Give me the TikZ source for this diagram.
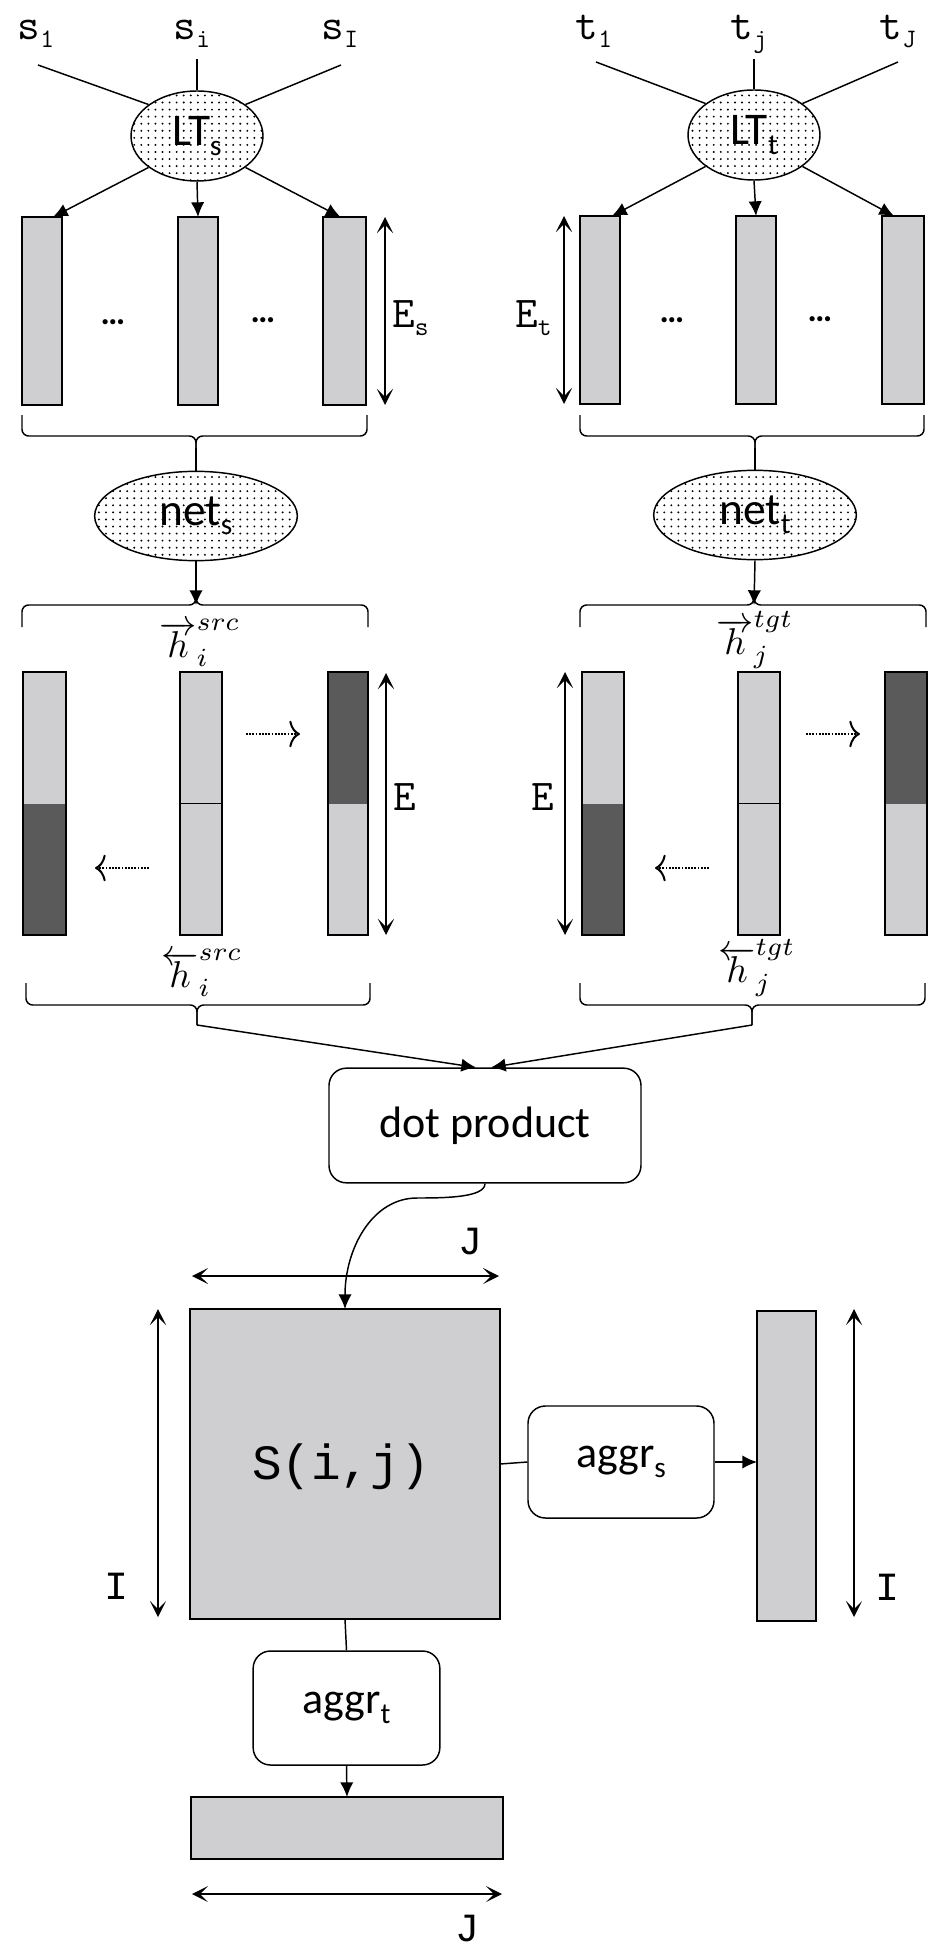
\documentclass[tikz,border=0pt]{standalone}
\usepackage{graphicx}
\usepackage{fontspec}
\usetikzlibrary{arrows.meta,shapes.geometric,patterns.meta,fit,calc}
\newfontfamily\carl{Carlito}
\newfontfamily\lmon{Liberation Mono}
\definecolor{lgray}{RGB}{207,206,208}
\definecolor{dgray}{RGB}{90,90,90}
\newcommand\ttsub[1]{\raisebox{-6pt}{\fontsize{20}{20}\selectfont #1}}
\newcommand\csub[1]{\raisebox{-7pt}{\fontsize{22}{22}\selectfont #1}}
\tikzset{
  bar/.style={draw, fill=lgray, line width=1.3pt, inner sep=0pt, outer sep=0pt},
  darkbottom/.style={path picture={\fill[dgray] (path picture bounding box.west) rectangle (path picture bounding box.south east);}},
  darktop/.style={path picture={\fill[dgray] (path picture bounding box.north west) rectangle (path picture bounding box.east);}},
  midline/.style={path picture={\draw[line width=1.3pt] (path picture bounding box.west) -- (path picture bounding box.east);}},
  dotell/.style={ellipse, draw, line width=1.1pt, pattern={Dots[distance=5.3pt,radius=0.8pt]}, inner sep=0pt, font=\carl\fontsize{34}{34}\selectfont},
  rbox/.style={draw, rounded corners=13pt, line width=1.1pt, inner sep=0pt, font=\carl\fontsize{33}{33}\selectfont},
  conn/.style={line width=1.1pt},
  arr/.style={line width=1.1pt, -{Latex[length=11pt,width=10pt]}},
  dim/.style={line width=1.1pt, {Stealth[length=12pt,width=12pt,inset=6pt]}-{Stealth[length=12pt,width=12pt,inset=6pt]}},
  dotarr/.style={line width=1.4pt, densely dotted, -{Computer Modern Rightarrow[length=8pt,width=20pt,line width=1.5pt]}},
  brace/.style={line width=1.1pt, rounded corners=5pt},
  ttlab/.style={font=\ttfamily\fontsize{33}{33}\selectfont, inner sep=0pt},
  mlab/.style={font=\lmon\fontsize{30}{30}\selectfont, inner sep=0pt},
  hlab/.style={inner sep=0pt},
  dotslab/.style={font=\carl\bfseries\fontsize{26}{26}\selectfont, inner sep=0pt}
}
\newcommand\hbig[1]{\scalebox{2.8}{$#1$}}
\begin{document}
\begin{tikzpicture}[x=0.75pt, y=-0.75pt]
\useasboundingbox (0,0) rectangle (944,1954);

% ---------- top labels ----------
\node[ttlab, anchor=base] (s1) at (36,40) {s\ttsub{1}};
\node[ttlab, anchor=base] (si) at (192,40) {s\ttsub{i}};
\node[ttlab, anchor=base] (sI) at (340,40) {s\ttsub{I}};
\node[ttlab, anchor=base] (t1) at (594,40) {t\ttsub{1}};
\node[ttlab, anchor=base] (tj) at (749,40) {t\ttsub{j}};
\node[ttlab, anchor=base] (tJ) at (898,40) {t\ttsub{J}};

\coordinate (s1e) at (38,65);
\coordinate (sie) at (197,59);
\coordinate (sIe) at (341,65);
\coordinate (t1e) at (596,62);
\coordinate (tje) at (754,59);
\coordinate (tJe) at (898,62);

% ---------- lookup tables ----------
\node[dotell, minimum width=99pt, minimum height=67.5pt] (LTs) at (197,136) {LT\csub{s}};
\node[dotell, minimum width=99pt, minimum height=67.5pt] (LTt) at (754,135) {LT\csub{t}};

\draw[conn] (s1e) -- (LTs.147);
\draw[conn] (sie) -- (LTs.north);
\draw[conn] (sIe) -- (LTs.33);
\draw[conn] (t1e) -- (LTt.147);
\draw[conn] (tje) -- (LTt.north);
\draw[conn] (tJe) -- (LTt.33);

% ---------- embedding bars ----------
\node[bar, fit={(22,217)(62,405)}] (bs1) {};
\node[bar, fit={(178,217)(218,405)}] (bs2) {};
\node[bar, fit={(323,217)(366,405)}] (bs3) {};
\node[bar, fit={(580,216)(620,404)}] (bt1) {};
\node[bar, fit={(736,216)(776,404)}] (bt2) {};
\node[bar, fit={(882,216)(924,404)}] (bt3) {};

\draw[arr] (LTs.213) -- ($(bs1.north)+(11,0)$);
\draw[arr] (LTs.south) -- (bs2.north);
\draw[arr] (LTs.327) -- ($(bs3.north)+(-4,0)$);
\draw[arr] (LTt.213) -- ($(bt1.north)+(12,0)$);
\draw[arr] (LTt.south) -- (bt2.north);
\draw[arr] (LTt.327) -- ($(bt3.north)+(-9,0)$);

\node[dotslab] (d1) at (113,322) {…};
\node[dotslab] (d2) at (263,320) {…};
\node[dotslab] (d3) at (672,320) {…};
\node[dotslab] (d4) at (820,319) {…};

\coordinate (Es1) at (385,217);
\coordinate (Es2) at (385,405);
\draw[dim] (Es1) -- (Es2);
\node[ttlab, anchor=base west] (Es) at (392,328) {E\ttsub{s}};
\coordinate (Et1) at (564,216);
\coordinate (Et2) at (564,404);
\draw[dim] (Et1) -- (Et2);
\node[ttlab, anchor=base west] (Et) at (515,328) {E\ttsub{t}};

% ---------- braces 1 ----------
\coordinate (bs) at (196,448);
\draw[brace] (22,415) -- (22,436) -- (196,436) -- (bs);
\draw[brace] (367,415) -- (367,436) -- (196,436) -- (bs);
\coordinate (bt) at (755,448);
\draw[brace] (580,415) -- (580,436) -- (755,436) -- (bt);
\draw[brace] (924,415) -- (924,436) -- (755,436) -- (bt);

% ---------- networks ----------
\node[dotell, minimum width=152pt, minimum height=67pt] (nets) at (196,516) {net\csub{s}};
\node[dotell, minimum width=152pt, minimum height=67pt] (nett) at (755,515) {net\csub{t}};
\draw[conn] (bs) -- (nets.north);
\draw[conn] (bt) -- (nett.north);

% ---------- braces 2 ----------
\coordinate (b2s) at (196,605);
\draw[brace] (22,627) -- (22,605) -- (196,605) -- (196,598);
\draw[brace] (368,627) -- (368,605) -- (196,605) -- (196,598);
\coordinate (b2t) at (754,605);
\draw[brace] (580,627) -- (580,605) -- (754,605) -- (754,598);
\draw[brace] (926,627) -- (926,605) -- (754,605) -- (754,598);
\draw[arr] (nets.south) -- (b2s);
\draw[arr] (nett.south) -- (b2t);

\node[hlab] (hfs) at (200,643) {\hbig{\overrightarrow{h}_i^{src}}};
\node[hlab] (hft) at (755,640) {\hbig{\overrightarrow{h}_j^{tgt}}};

% ---------- hidden state bars ----------
\node[bar, darkbottom, fit={(23,672)(66,935)}] (hs1) {};
\node[bar, midline, fit={(180,672)(222,935)}] (hs2) {};
\node[bar, darktop, fit={(328,672)(368,935)}] (hs3) {};
\node[bar, darkbottom, fit={(582,672)(624,935)}] (ht1) {};
\node[bar, midline, fit={(738,672)(780,935)}] (ht2) {};
\node[bar, darktop, fit={(885,672)(927,935)}] (ht3) {};

\coordinate (das1) at (246,734);
\coordinate (das2) at (300,734);
\coordinate (dbs1) at (149,868);
\coordinate (dbs2) at (95,868);
\coordinate (dat1) at (806,734);
\coordinate (dat2) at (860,734);
\coordinate (dbt1) at (709,868);
\coordinate (dbt2) at (655,868);
\draw[dotarr] (das1) -- (das2);
\draw[dotarr] (dbs1) -- (dbs2);
\draw[dotarr] (dat1) -- (dat2);
\draw[dotarr] (dbt1) -- (dbt2);

\coordinate (Em1) at (386,673);
\coordinate (Em2) at (386,935);
\draw[dim] (Em1) -- (Em2);
\node[ttlab] (Ems) at (405,797) {E};
\coordinate (En1) at (565,672);
\coordinate (En2) at (565,935);
\draw[dim] (En1) -- (En2);
\node[ttlab] (Emt) at (543,797) {E};

\node[hlab] (hbs) at (202,973) {\hbig{\overleftarrow{h}_i^{src}}};
\node[hlab] (hbt) at (757,968) {\hbig{\overleftarrow{h}_j^{tgt}}};

% ---------- braces 3 ----------
\coordinate (b3s) at (197,1025);
\draw[brace] (26,983) -- (26,1005) -- (197,1005) -- (b3s);
\draw[brace] (370,983) -- (370,1005) -- (197,1005) -- (b3s);
\coordinate (b3t) at (752,1025);
\draw[brace] (580,983) -- (580,1005) -- (752,1005) -- (b3t);
\draw[brace] (925,983) -- (925,1005) -- (752,1005) -- (b3t);

% ---------- dot product ----------
\node[rbox, minimum width=234pt, minimum height=86pt] (dp) at (485,1125.5) {dot product};
\draw[arr] (b3s) -- ($(dp.north)+(-9,0)$);
\draw[arr] (b3t) -- ($(dp.north)+(6,0)$);

% ---------- similarity matrix ----------
\node[bar, fit={(190,1309)(500,1619)}] (S) {};
\node[font=\lmon\fontsize{37}{37}\selectfont, inner sep=0pt] (Stxt) at (341,1467) {S(i,j)};
\coordinate (cm) at (417,1198);
\draw[arr] (dp.south) .. controls +(0,14) and +(28,0) .. (cm) .. controls +(-45,0) and +(0,-60) .. (S.north);

\coordinate (J1a) at (192,1276);
\coordinate (J1b) at (499,1276);
\draw[dim] (J1a) -- (J1b);
\node[mlab] (J1) at (470,1242) {J};

\coordinate (I1a) at (158,1309);
\coordinate (I1b) at (158,1617);
\draw[dim] (I1a) -- (I1b);
\node[mlab] (I1) at (117,1586) {I};

\node[rbox, minimum width=139.5pt, minimum height=84pt] (aggrs) at (621,1462) {aggr\csub{s}};
\node[bar, fit={(757,1311)(816,1621)}] (rbar) {};
\draw[conn] (S.east) -- (aggrs.west);
\draw[arr] (aggrs.east) -- (aggrs.east -| rbar.west);

\coordinate (I2a) at (854,1309);
\coordinate (I2b) at (854,1617);
\draw[dim] (I2a) -- (I2b);
\node[mlab] (I2) at (887,1587) {I};

\node[rbox, minimum width=140pt, minimum height=85.5pt] (aggrt) at (346.5,1708) {aggr\csub{t}};
\node[bar, fit={(191,1797)(503,1859)}] (bbar) {};
\draw[conn] (S.south) -- (aggrt.north);
\draw[arr] (aggrt.south) -- (bbar.north);

\coordinate (J2a) at (192,1894);
\coordinate (J2b) at (502,1894);
\draw[dim] (J2a) -- (J2b);
\node[mlab] (J2) at (467,1928) {J};
\end{tikzpicture}
\end{document}
